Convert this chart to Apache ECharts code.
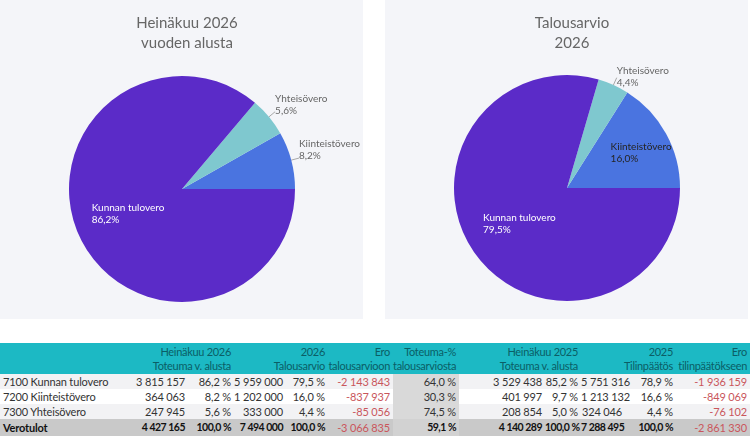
<!DOCTYPE html>
<html>
<head>
<meta charset="utf-8">
<script src="https://cdn.jsdelivr.net/npm/echarts@6/dist/echarts.min.js"></script>
<style>
  html, body { margin: 0; padding: 0; background: #fff; }
  body { width: 750px; height: 437px; position: relative; overflow: hidden; font-family: Lato, "Liberation Sans", sans-serif; }
  #chart { position: absolute; left: 0; top: 0; width: 750px; height: 322px; }
  #tbl { position: absolute; left: 0; top: 343px; width: 750px; border-collapse: collapse; table-layout: fixed; font-size: 11px; color: #333; letter-spacing: -0.15px; }
  #tbl th { background: #1cb9c4; color: #0b5e66; font-weight: normal; text-align: right; line-height: 14px; padding: 2px 3px 1px 0; white-space: nowrap; height: 28px; letter-spacing: -0.3px; }
  #tbl td { height: 15px; padding: 0 3px 0 0; line-height: 15px; text-align: right; white-space: nowrap; overflow: visible; }
  #tbl td.lbl { text-align: left; padding-left: 3px; }
  #tbl tr.odd td { background: #f2f2f4; }
  #tbl tr.even td { background: #fff; }
  #tbl td.neg { color: #c9565c; }
  #tbl td.tot { background: #d9d9d9 !important; }
  #tbl tr.sum td { background: #c9c9c9; font-weight: bold; color: #111; height: 17px; font-size: 10.5px; letter-spacing: -0.5px; }
  #tbl tr.sum td.lbl { font-size: 11px; letter-spacing: -0.2px; }
  #tbl tr.sum td.tot { background: #d2d2d2 !important; }
  #tbl tr.sum td.neg { color: #c9565c; font-weight: normal; font-size: 11px; letter-spacing: -0.15px; }
</style>
</head>
<body>
<div id="chart"></div>
<table id="tbl">
  <colgroup>
    <col style="width:120px"><col style="width:68px"><col style="width:46px"><col style="width:52px">
    <col style="width:42px"><col style="width:65px"><col style="width:66px"><col style="width:86px">
    <col style="width:36px"><col style="width:44px"><col style="width:51px"><col style="width:74px">
  </colgroup>
  <thead id="thead"></thead>
  <tbody id="tbody"></tbody>
</table>
<script>
// verolajit taulukon järjestyksessä
const taxCodes = ['7100', '7200', '7300'];
const taxNames = ['Kunnan tulovero', 'Kiinteistövero', 'Yhteisövero'];
const totalLabel = 'Verotulot';

// Heinäkuu 2026, toteuma vuoden alusta
const toteuma2026 = [3815157, 364063, 247945, 4427165];
const toteuma2026Pct = ['86,2 %', '8,2 %', '5,6 %', '100,0 %'];
// Talousarvio 2026
const talousarvio2026 = [5959000, 1202000, 333000, 7494000];
const talousarvio2026Pct = ['79,5 %', '16,0 %', '4,4 %', '100,0 %'];
const eroTalousarvioon = [-2143843, -837937, -85056, -3066835];
const toteumaPctTalousarviosta = ['64,0 %', '30,3 %', '74,5 %', '59,1 %'];
// Heinäkuu 2025, toteuma vuoden alusta
const toteuma2025 = [3529438, 401997, 208854, 4140289];
const toteuma2025Pct = ['85,2 %', '9,7 %', '5,0 %', '100,0 %'];
// Tilinpäätös 2025
const tilinpaatos2025 = [5751316, 1213132, 324046, 7288495];
const tilinpaatos2025Pct = ['78,9 %', '16,6 %', '4,4 %', '100,0 %'];
const eroTilinpaatokseen = [-1936159, -849069, -76102, -2861330];

// piirakan järjestys: Kiinteistövero, Yhteisövero, Kunnan tulovero (vastapäivään klo 3:sta)
const pieOrder = [1, 2, 0];
const pieColors = ['#4a74e0', '#7fc8cf', '#5b2bc8'];

function fmtNum(n) {
  const s = Math.abs(n).toString().replace(/\B(?=(\d{3})+(?!\d))/g, ' ');
  return (n < 0 ? '-' : '') + s;
}
function fmtPct(p) {
  return p.toFixed(1).replace('.', ',') + '%';
}

const chart = echarts.init(document.getElementById('chart'), null, { renderer: 'canvas' });

// labelit: lista per viipale [Kiinteistövero, Yhteisövero, Kunnan tulovero]
// pos: 'inside' / 'outside', pad = label padding (siirtää tekstiä hieman)
function pieData(values, labels) {
  return pieOrder.map((idx, i) => {
    const l = labels[i];
    const inside = l.pos === 'inside';
    return {
      name: taxNames[idx],
      value: values[idx],
      itemStyle: { color: pieColors[i] },
      label: {
        position: l.pos,
        color: inside ? l.color : '#666666',
        padding: l.pad || 0
      },
      labelLine: { show: !inside }
    };
  });
}

function pieSeries(center, values, labels) {
  return {
    type: 'pie',
    center: center,
    radius: 113,
    startAngle: 0,
    clockwise: false,
    avoidLabelOverlap: false,
    silent: true,
    animation: false,
    label: {
      fontFamily: 'Lato',
      fontSize: 10,
      formatter: p => '{a|' + p.name + '}\n{a|' + fmtPct(p.percent) + '}',
      rich: { a: { align: 'left', lineHeight: 12, fontSize: 10, fontFamily: 'Lato' } },
      distanceToLabelLine: 0
    },
    labelLine: {
      length: 8,
      length2: 0,
      lineStyle: { color: '#a8a8a8', width: 1 }
    },
    data: pieData(values, labels)
  };
}

const option = {
  graphic: [
    { type: 'rect', shape: { x: 0, y: 0, width: 363, height: 319 }, style: { fill: '#f4f5f9' }, z: -10, silent: true },
    { type: 'rect', shape: { x: 385, y: 0, width: 363, height: 319 }, style: { fill: '#f4f5f9' }, z: -10, silent: true }
  ],
  title: [
    {
      text: 'Heinäkuu 2026\nvuoden alusta',
      left: 182, top: 8, textAlign: 'center',
      textStyle: { fontFamily: 'Lato', fontSize: 15, fontWeight: 'normal', color: '#666666', lineHeight: 20 }
    },
    {
      text: 'Talousarvio\n2026',
      left: 567, top: 8, textAlign: 'center',
      textStyle: { fontFamily: 'Lato', fontSize: 15, fontWeight: 'normal', color: '#666666', lineHeight: 20 }
    }
  ],
  series: [
    pieSeries([182, 189], toteuma2026, [
      { pos: 'outside', pad: [0, 0, 16, 0] },
      { pos: 'outside', pad: [0, 0, 14, 0] },
      { pos: 'inside', color: '#ffffff' }
    ]),
    pieSeries([567, 188], talousarvio2026, [
      { pos: 'inside', color: '#252423', pad: [0, 0, 12, 44] },
      { pos: 'outside', pad: [0, 0, 2, 0] },
      { pos: 'inside', color: '#ffffff' }
    ])
  ]
};
chart.setOption(option);

// taulukko
const thead = document.getElementById('thead');
thead.innerHTML = '<tr>' +
  '<th></th>' +
  '<th colspan="2">Heinäkuu 2026<br>Toteuma v. alusta</th>' +
  '<th colspan="2">2026<br>Talousarvio</th>' +
  '<th>Ero<br>talousarvioon</th>' +
  '<th>Toteuma-%<br>talousarviosta</th>' +
  '<th colspan="2">Heinäkuu 2025<br>Toteuma v. alusta</th>' +
  '<th colspan="2">2025<br>Tilinpäätös</th>' +
  '<th>Ero<br>tilinpäätökseen</th>' +
  '</tr>';

const tbody = document.getElementById('tbody');
let rows = '';
for (let i = 0; i < 4; i++) {
  const isSum = i === 3;
  const cls = isSum ? 'sum' : (i % 2 === 0 ? 'odd' : 'even');
  const label = isSum ? totalLabel : taxCodes[i] + ' ' + taxNames[i];
  rows += '<tr class="' + cls + '">' +
    '<td class="lbl">' + label + '</td>' +
    '<td>' + fmtNum(toteuma2026[i]) + '</td>' +
    '<td>' + toteuma2026Pct[i] + '</td>' +
    '<td>' + fmtNum(talousarvio2026[i]) + '</td>' +
    '<td>' + talousarvio2026Pct[i] + '</td>' +
    '<td class="neg">' + fmtNum(eroTalousarvioon[i]) + '</td>' +
    '<td class="tot">' + toteumaPctTalousarviosta[i] + '</td>' +
    '<td>' + fmtNum(toteuma2025[i]) + '</td>' +
    '<td>' + toteuma2025Pct[i] + '</td>' +
    '<td>' + fmtNum(tilinpaatos2025[i]) + '</td>' +
    '<td>' + tilinpaatos2025Pct[i] + '</td>' +
    '<td class="neg">' + fmtNum(eroTilinpaatokseen[i]) + '</td>' +
    '</tr>';
}
tbody.innerHTML = rows;
</script>
</body>
</html>
